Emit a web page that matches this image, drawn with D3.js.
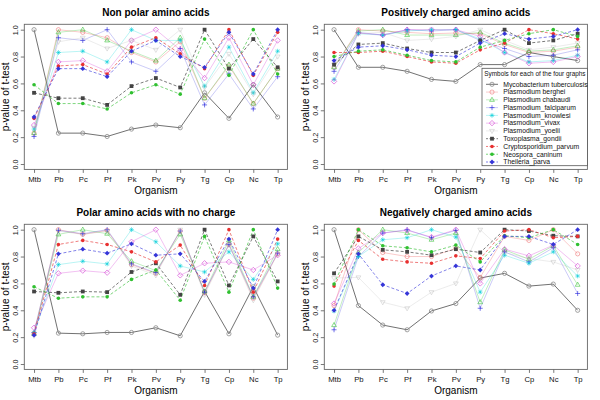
<!DOCTYPE html>
<html><head><meta charset="utf-8">
<script src="https://cdn.jsdelivr.net/npm/d3@7"></script>
<style>body{margin:0;background:#fff}svg{display:block;font-family:"Liberation Sans",Arial,Helvetica,sans-serif}</style>
</head><body>
<svg id="c" width="600" height="400"></svg>
<script>
// ---------- data ----------
const organisms = ["Mtb","Pb","Pc","Pf","Pk","Pv","Py","Tg","Cp","Nc","Tp"];
const seriesNames = ["Mycobacterium tuberculosis","Plasmodium berghei","Plasmodium chabaudi","Plasmodium_falciparum","Plasmodium_knowlesi","Plasmodium_vivax","Plasmodium_yoelii","Toxoplasma_gondii","Cryptosporidium_parvum","Neospora_caninum","Theileria_parva"];
const yTicks = [0, 0.2, 0.4, 0.6, 0.8, 1.0];
const panelTitles = ["Non polar amino acids","Positively charged amino acids","Polar amino acids with no charge","Negatively charged amino acids"];
const legendTitle = "Symbols for each of the four graphs";

// each row = one series (organism compared against every organism on the x axis)
const nonPolar = [
  [1, .23, .23, .205, .26, .29, .27, .53, .34, .59, .35],
  [.23, 1, .98, .94, .83, .76, .91, .49, .73, .45, .71],
  [.23, .98, 1, .92, .84, .77, .94, .49, .74, .45, .71],
  [.205, .94, .92, 1, .76, .69, .86, .44, .67, .41, .65],
  [.26, .83, .84, .76, 1, .92, .92, .58, .87, .53, .84],
  [.29, .76, .77, .69, .92, 1, .85, .64, .94, .59, .92],
  [.27, .91, .94, .86, .92, .85, 1, .57, .82, .52, .80],
  [.53, .49, .49, .44, .58, .64, .57, 1, .71, .93, .72],
  [.34, .73, .74, .67, .87, .94, .82, .71, 1, .66, .98],
  [.59, .45, .45, .41, .53, .59, .52, .93, .66, 1, .67],
  [.35, .71, .71, .65, .84, .92, .80, .72, .98, .67, 1]
];
const positive = [
  [1, .72, .72, .69, .63, .615, .74, .74, .83, .80, .77],
  [.72, 1, .99, .98, .97, .975, .97, .89, .83, .84, .87],
  [.72, .99, 1, .96, .96, .96, .98, .90, .84, .85, .88],
  [.69, .98, .96, 1, .99, 1.0, .92, .86, .80, .81, .85],
  [.63, .97, .96, .99, 1, 1.0, .93, .83, .76, .77, .81],
  [.615, .975, .96, 1.0, 1.0, 1, .95, .83, .75, .76, .80],
  [.74, .97, .98, .92, .93, .95, 1, .92, .85, .87, .90],
  [.74, .89, .90, .86, .83, .83, .92, 1, .90, .92, .97],
  [.83, .83, .84, .80, .76, .75, .85, .90, 1, .97, .93],
  [.80, .84, .85, .81, .77, .76, .87, .92, .97, 1, .95],
  [.77, .87, .88, .85, .81, .80, .90, .97, .93, .95, 1]
];
const polarNoCharge = [
  [1, .23, .225, .235, .235, .27, .21, .54, .225, .575, .215],
  [.23, 1, .965, .995, .74, .675, .99, .53, .89, .49, .82],
  [.225, .965, 1, .97, .765, .695, .965, .54, .92, .50, .855],
  [.235, .995, .97, 1, .745, .68, .99, .535, .89, .50, .825],
  [.235, .74, .765, .745, 1, .91, .73, .685, .835, .63, .895],
  [.27, .675, .695, .68, .91, 1, .66, .75, .76, .70, .81],
  [.21, .99, .965, .99, .73, .66, 1, .515, .885, .475, .82],
  [.54, .53, .54, .535, .685, .75, .515, 1, .585, .95, .615],
  [.225, .89, .92, .89, .835, .76, .885, .585, 1, .535, .93],
  [.575, .49, .50, .50, .63, .70, .475, .95, .535, 1, .565],
  [.215, .82, .855, .825, .895, .81, .82, .615, .93, .565, 1]
];
const negative = [
  [1, .435, .29, .255, .395, .45, .64, .675, .58, .595, .40],
  [.435, 1, .83, .80, .80, .86, .645, .95, .92, 1.0, .82],
  [.29, .83, 1, .975, .925, .975, .46, .85, .78, .88, .59],
  [.255, .80, .975, 1, .94, .995, .415, .835, .76, .865, .525],
  [.395, .80, .925, .94, 1, .945, .535, .81, .75, .835, .655],
  [.45, .86, .975, .995, .945, 1, .60, .855, .805, .885, .73],
  [.64, .645, .46, .415, .535, .60, 1, .83, .785, .76, .70],
  [.675, .95, .85, .835, .81, .855, .83, 1, .99, .955, .95],
  [.58, .92, .78, .76, .75, .805, .785, .99, 1, .94, .95],
  [.595, 1.0, .88, .865, .835, .885, .76, .955, .94, 1, .89],
  [.40, .82, .59, .525, .655, .73, .70, .95, .95, .89, 1]
];
const panelData = [nonPolar, positive, polarNoCharge, negative];

// ---------- styles ----------
const styles = [
  {line:"#4d4d4d", mark:"#8a8a8a", shape:"circle", dash:null},
  {line:"rgba(240,110,110,0.45)", mark:"rgba(235,100,100,0.65)", shape:"circle", dash:null},
  {line:"rgba(60,200,60,0.4)", mark:"rgba(50,190,50,0.7)", shape:"triangle", dash:null},
  {line:"rgba(90,90,230,0.4)", mark:"rgba(40,40,220,0.8)", shape:"plus", dash:null},
  {line:"rgba(0,215,215,0.35)", mark:"rgba(0,205,215,0.7)", shape:"star", dash:null},
  {line:"rgba(215,60,215,0.4)", mark:"rgba(210,60,210,0.75)", shape:"diamond", dash:null},
  {line:"rgba(160,160,160,0.25)", mark:"rgba(170,170,170,0.45)", shape:"triDown", dash:null},
  {line:"rgba(60,60,60,0.85)", mark:"#444", shape:"square", dash:"3,2"},
  {line:"rgba(230,50,50,0.8)", mark:"#e83030", shape:"dot", dash:"3,2"},
  {line:"rgba(50,190,50,0.8)", mark:"#30c030", shape:"dot", dash:"3,2"},
  {line:"rgba(60,60,220,0.8)", mark:"#3535d8", shape:"dotDiamond", dash:"3,2"}
];

function marker(g, shape, color, x, y) {
  const sw = 0.8;
  switch (shape) {
    case "circle": g.append("circle").attr("cx",x).attr("cy",y).attr("r",2.1).attr("fill","none").attr("stroke",color).attr("stroke-width",sw); break;
    case "triangle": g.append("path").attr("d",`M${x},${y-2.6}L${x+2.4},${y+1.5}L${x-2.4},${y+1.5}Z`).attr("fill","none").attr("stroke",color).attr("stroke-width",sw); break;
    case "triDown": g.append("path").attr("d",`M${x},${y+2.6}L${x+2.4},${y-1.5}L${x-2.4},${y-1.5}Z`).attr("fill","none").attr("stroke",color).attr("stroke-width",sw); break;
    case "plus": g.append("path").attr("d",`M${x-2.5},${y}H${x+2.5}M${x},${y-2.5}V${y+2.5}`).attr("stroke",color).attr("stroke-width",sw); break;
    case "star": g.append("path").attr("d",`M${x-2.4},${y}H${x+2.4}M${x},${y-2.4}V${y+2.4}M${x-1.7},${y-1.7}L${x+1.7},${y+1.7}M${x-1.7},${y+1.7}L${x+1.7},${y-1.7}`).attr("stroke",color).attr("stroke-width",sw); break;
    case "diamond": g.append("path").attr("d",`M${x},${y-2.7}L${x+2.7},${y}L${x},${y+2.7}L${x-2.7},${y}Z`).attr("fill","none").attr("stroke",color).attr("stroke-width",sw); break;
    case "square": g.append("rect").attr("x",x-1.9).attr("y",y-1.9).attr("width",3.8).attr("height",3.8).attr("fill",color); break;
    case "dot": g.append("circle").attr("cx",x).attr("cy",y).attr("r",1.8).attr("fill",color); break;
    case "dotDiamond": g.append("path").attr("d",`M${x},${y-2.4}L${x+2.4},${y}L${x},${y+2.4}L${x-2.4},${y}Z`).attr("fill",color); break;
  }
}

// ---------- layout ----------
const svg = d3.select("#c");
const offsets = [[0,0],[300,0],[0,200],[300,200]];
const L = 24.3, R = 287.4, T = 24.3, B = 169.4;

panelData.forEach((mat, p) => {
  const [ox, oy] = offsets[p];
  const g = svg.append("g").attr("transform", `translate(${ox},${oy})`);
  const x = d3.scaleLinear().domain([0.6, 11.4]).range([L, R]);
  const y = d3.scaleLinear().domain([-0.04, 1.04]).range([B, T]);

  g.append("text").attr("x",(L+R)/2).attr("y",15.5).attr("text-anchor","middle")
    .attr("font-size",10).attr("font-weight","bold").attr("fill","#000").text(panelTitles[p]);

  const xa = g.append("g").attr("transform",`translate(0,${B})`)
    .call(d3.axisBottom(x).tickValues(d3.range(1,12)).tickFormat(i => organisms[i-1]).tickSize(3.5).tickSizeOuter(0));
  xa.select(".domain").remove();
  xa.selectAll("line").attr("stroke","#555").attr("stroke-width",0.8);
  xa.selectAll("text").attr("y",12.2).attr("dy",0).attr("font-size",7.7).attr("fill","#111");

  const ya = g.append("g").attr("transform",`translate(${L},0)`)
    .call(d3.axisLeft(y).tickValues(yTicks).tickFormat(d3.format(".1f")).tickSize(3.5).tickSizeOuter(0));
  ya.select(".domain").remove();
  ya.selectAll("line").attr("stroke","#555").attr("stroke-width",0.8);
  ya.selectAll("text").attr("x",0).attr("dy",0).attr("text-anchor","middle")
    .attr("transform","translate(-6.8,0) rotate(-90)").attr("font-size",7.3).attr("fill","#111");

  g.append("text").attr("x",(L+R)/2).attr("y",194.3).attr("text-anchor","middle")
    .attr("font-size",10).attr("fill","#000").text("Organism");
  g.append("text").attr("transform",`translate(8.6,${(T+B)/2}) rotate(-90)`).attr("text-anchor","middle")
    .attr("font-size",10).attr("fill","#000").text("p-value of t-test");

  const line = d3.line().x((d,i) => x(i+1)).y(d => y(d));
  mat.forEach((row, s) => {
    const st = styles[s];
    g.append("path").attr("d", line(row)).attr("fill","none").attr("stroke", st.line)
      .attr("stroke-width",0.8).attr("stroke-dasharray", st.dash);
  });
  mat.forEach((row, s) => {
    const st = styles[s];
    const mg = g.append("g");
    row.forEach((v, i) => marker(mg, st.shape, st.mark, x(i+1), y(v)));
  });

  g.append("rect").attr("x",L).attr("y",T).attr("width",R-L).attr("height",B-T)
    .attr("fill","none").attr("stroke","#666").attr("stroke-width",0.9);

  if (p === 1) {
    const lx = 482 - 300, ly = 68.3, lw = 587.4 - 482, lh = 97.4;
    const lg = g.append("g");
    lg.append("rect").attr("x",lx).attr("y",ly).attr("width",lw).attr("height",lh)
      .attr("fill","#fff").attr("stroke","#555").attr("stroke-width",0.8);
    lg.append("text").attr("x",lx+2.3).attr("y",ly+7.3).attr("font-size",6.4).attr("fill","#111").text(legendTitle);
    seriesNames.forEach((name, s) => {
      const st = styles[s];
      const cy = 84.3 + s*7.77;
      lg.append("line").attr("x1",lx+4).attr("x2",lx+16).attr("y1",cy).attr("y2",cy)
        .attr("stroke", st.line).attr("stroke-width",0.8).attr("stroke-dasharray", st.dash ? "2,1.5" : null);
      marker(lg, st.shape, st.mark, lx+10, cy);
      lg.append("text").attr("x",lx+21.3).attr("y",cy+2.3).attr("font-size",6.8).attr("fill","#111").text(name);
    });
  }
});
</script>
</body></html>
